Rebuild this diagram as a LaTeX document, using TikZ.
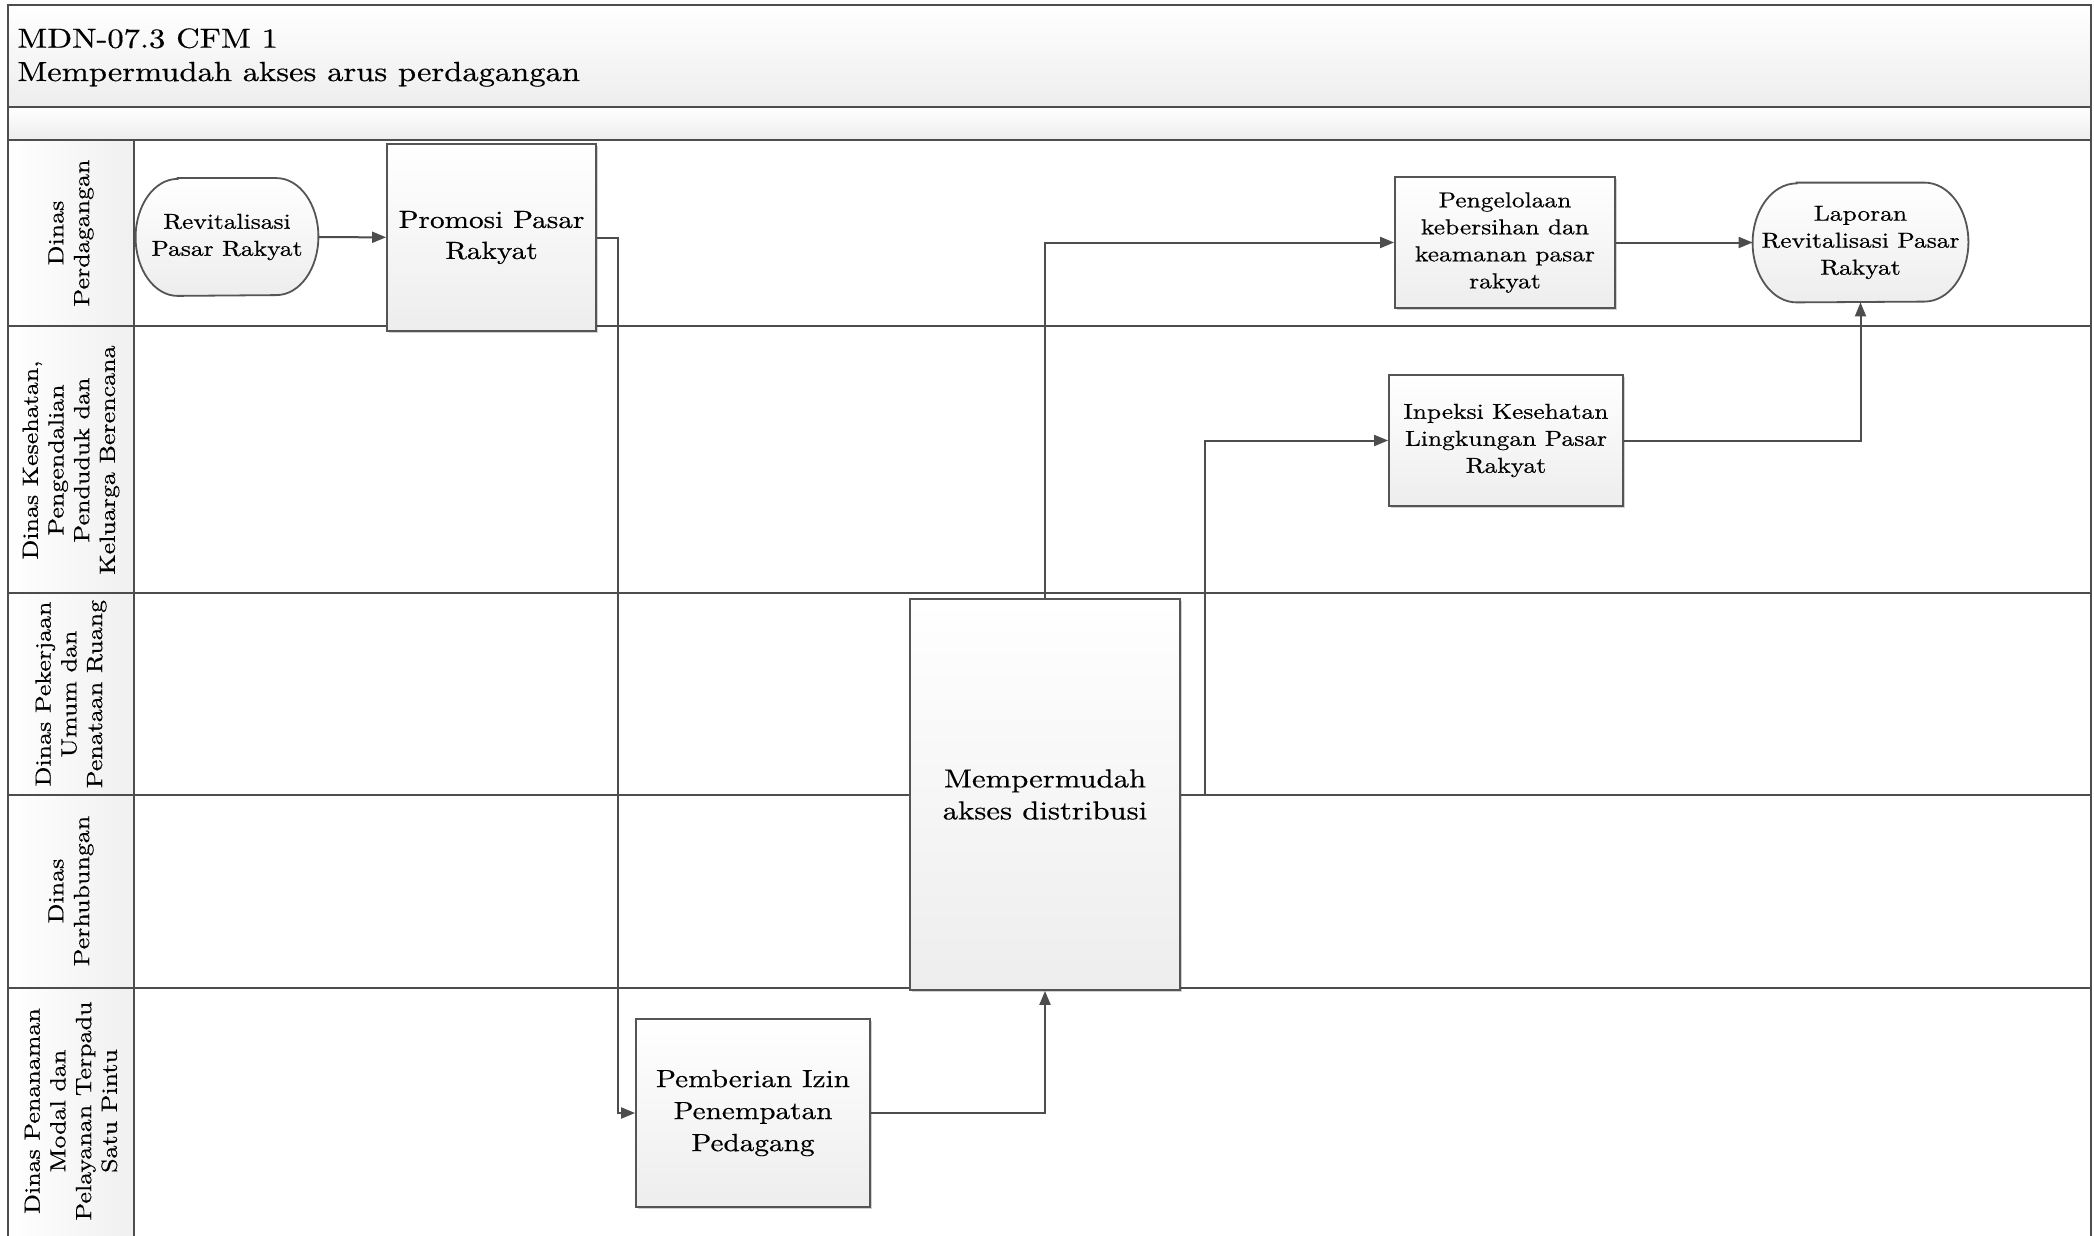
\documentclass[tikz,border=0pt]{standalone}
\usepackage{fontspec}
\setmainfont{lmroman10-regular.otf}[FakeStretch=1.18, FakeBold=0.5]
\usetikzlibrary{arrows.meta,calc,shadows,backgrounds}
\definecolor{lc}{HTML}{4D4D4D}
\definecolor{bc}{HTML}{555555}
\tikzset{
  lane/.style={draw=lc, line width=1pt},
  band/.style={draw=lc, line width=1pt, top color=white, bottom color=gray!14},
  hdr/.style={draw=lc, line width=1pt, left color=white, right color=gray!12},
  proc/.style={draw=bc, line width=0.9pt, top color=white, bottom color=gray!14,
    align=center, inner sep=0pt,
    drop shadow={shadow xshift=1.2pt, shadow yshift=-1.2pt, fill=black, opacity=0.18}},
  term/.style={align=center, inner sep=0pt},
  termfill/.style={draw=bc, line width=0.9pt, top color=white, bottom color=gray!14},
  conn/.style={draw=lc, line width=1pt, -{Triangle[length=7pt,width=5.5pt]}},
  lanetext/.style={rotate=90, align=center, font=\fontsize{11}{12.85}\selectfont},
  small/.style={font=\fontsize{10.8}{13.5}\selectfont},
  mid/.style={font=\fontsize{12.4}{15.5}\selectfont},
}
\newcommand\myterm[3]{%
  \path[termfill] ([xshift=#2]#1.north west) -- ([xshift=-#2]#1.north east)
    arc[start angle=90, end angle=-90, x radius=#2, y radius=#3]
    -- ([xshift=#2]#1.south west)
    arc[start angle=270, end angle=90, x radius=#2, y radius=#3] -- cycle;}
\begin{document}
\begin{tikzpicture}[x=0.5pt, y=0.5pt]
\useasboundingbox (0,0) rectangle (2094,-1236);
\begin{scope}[on background layer]
  \fill[white] (0,0) rectangle (2094,-1236);
\end{scope}
% bands
\path[band] (8,-5) rectangle (2091,-107);
\path[band] (8,-107) rectangle (2091,-140);
% header cells
\path[hdr] (8,-140) rectangle (134,-326);
\path[hdr] (8,-326) rectangle (134,-593);
\path[hdr] (8,-593) rectangle (134,-795);
\path[hdr] (8,-795) rectangle (134,-988);
\path[hdr, draw=none] (8,-988) rectangle (134,-1240);
\draw[lane] (8,-988) -- (8,-1240);
\draw[lane] (134,-988) -- (134,-1240);
% lane lines
\draw[lane] (134,-326) -- (2091,-326);
\draw[lane] (134,-593) -- (2091,-593);
\draw[lane] (134,-795) -- (2091,-795);
\draw[lane] (134,-988) -- (2091,-988);
\draw[lane] (2091,-140) -- (2091,-1240);
\draw[lane] (8,-988) -- (134,-988);
% title
\node[anchor=base west, inner sep=0pt, font=\fontsize{13.8}{16.5}\selectfont] (t1) at (17,-47.7) {MDN-07.3 CFM 1};
\node[anchor=base west, inner sep=0pt, font=\fontsize{13.8}{16.5}\selectfont] (t2) at (17,-81) {Mempermudah akses arus perdagangan};
% lane labels
\node[lanetext] (l1) at (71,-233) {Dinas\\Perdagangan};
\node[lanetext] (l2) at (71,-460) {Dinas Kesehatan,\\Pengendalian\\Penduduk dan\\Keluarga Berencana};
\node[lanetext] (l3) at (71,-694) {Dinas Pekerjaan\\Umum dan\\Penataan Ruang};
\node[lanetext] (l4) at (71,-891) {Dinas\\Perhubungan};
\node[lanetext] (l5) at (71,-1111) {Dinas Penanaman\\Modal dan\\Pelayanan Terpadu\\Satu Pintu};
% nodes
\node[term, small, minimum width=91pt, minimum height=58.5pt] (rev) at (227,-237) {Revitalisasi\\Pasar Rakyat};
\node[proc, mid, minimum width=104.5pt, minimum height=93.5pt] (promo) at (491.5,-237.5) {Promosi Pasar\\Rakyat};
\node[proc, small, minimum width=110pt, minimum height=65.5pt] (peng) at (1505,-242.5) {Pengelolaan\\kebersihan dan\\keamanan pasar\\rakyat};
\node[term, small, minimum width=107.5pt, minimum height=59.5pt] (lap) at (1860.5,-242.5) {Laporan\\Revitalisasi Pasar\\Rakyat};
\node[proc, small, minimum width=117pt, minimum height=65.5pt] (insp) at (1506,-440.5) {Inpeksi Kesehatan\\Lingkungan Pasar\\Rakyat};
\node[proc, font=\fontsize{13}{16}\selectfont, minimum width=135pt, minimum height=195.5pt] (memp) at (1045,-794.5) {Mempermudah\\akses distribusi};
\node[proc, font=\fontsize{12.4}{16}\selectfont, minimum width=117pt, minimum height=94pt] (pemb) at (753,-1113) {Pemberian Izin\\Penempatan\\Pedagang};
\begin{scope}[on background layer]
  \myterm{rev}{21pt}{29.25pt}
  \myterm{lap}{22pt}{29.75pt}
\end{scope}
% connectors
\coordinate (c1) at (618,-237.5);
\coordinate (c2) at (1205,-794.5);
\draw[conn] (rev) -- (promo);
\draw[conn] (promo.east) -- (c1) |- (pemb.west);
\draw[conn] (pemb.east) -| (memp.south);
\draw[conn] (memp.north) |- (peng.west);
\draw[conn] (memp.east) -- (c2) |- (insp.west);
\draw[conn] (peng) -- (lap);
\draw[conn] (insp.east) -| (lap.south);
\end{tikzpicture}
\end{document}
